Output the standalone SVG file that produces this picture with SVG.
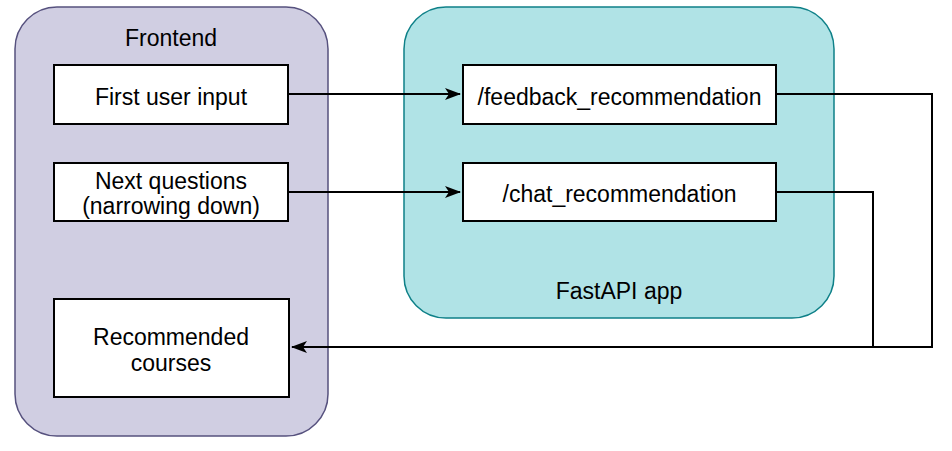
<svg xmlns="http://www.w3.org/2000/svg" width="952" height="451" viewBox="0 0 952 451">
<style>
text{font-family:"Liberation Sans",Arial,sans-serif;font-size:23px;fill:#000;text-anchor:middle}
.box{fill:#fff;stroke:#000;stroke-width:2}
.conn{fill:none;stroke:#000;stroke-width:2}
</style>
<defs>
<marker id="arr" markerWidth="16" markerHeight="14" viewBox="0 0 16 14" refX="15" refY="7" orient="auto" markerUnits="userSpaceOnUse">
<path d="M0,1 L16,7 L0,13 L4,7 Z" fill="#000"/>
</marker>
</defs>
<g id="frontend">
<rect x="15" y="7" width="313" height="429" rx="42" fill="#d0cee2" stroke="#56517e" stroke-width="1.5"/>
<text x="171" y="46">Frontend</text>
</g>
<g id="fastapi">
<rect x="404" y="7" width="430" height="311" rx="42" fill="#b0e3e6" stroke="#0e8088" stroke-width="1.5"/>
<text x="619" y="299">FastAPI app</text>
</g>
<g id="first-input">
<rect class="box" x="54" y="65" width="234" height="59"/>
<text x="171" y="105">First user input</text>
</g>
<g id="next-questions">
<rect class="box" x="54" y="163" width="234" height="58"/>
<text x="171" y="189">Next questions</text>
<text x="171" y="214">(narrowing down)</text>
</g>
<g id="recommended">
<rect class="box" x="54" y="299" width="235" height="98"/>
<text x="171" y="345">Recommended</text>
<text x="171" y="371">courses</text>
</g>
<g id="feedback">
<rect class="box" x="463" y="65" width="313" height="59"/>
<text x="619.5" y="105">/feedback_recommendation</text>
</g>
<g id="chat">
<rect class="box" x="463" y="163" width="313" height="58"/>
<text x="619.5" y="202">/chat_recommendation</text>
</g>
<g id="connectors">
<path class="conn" d="M288,94 H460" marker-end="url(#arr)"/>
<path class="conn" d="M288,192 H460" marker-end="url(#arr)"/>
<path class="conn" d="M776,94 H932 V347 H292" marker-end="url(#arr)"/>
<path class="conn" d="M776,192 H873 V347"/>
</g>
</svg>
